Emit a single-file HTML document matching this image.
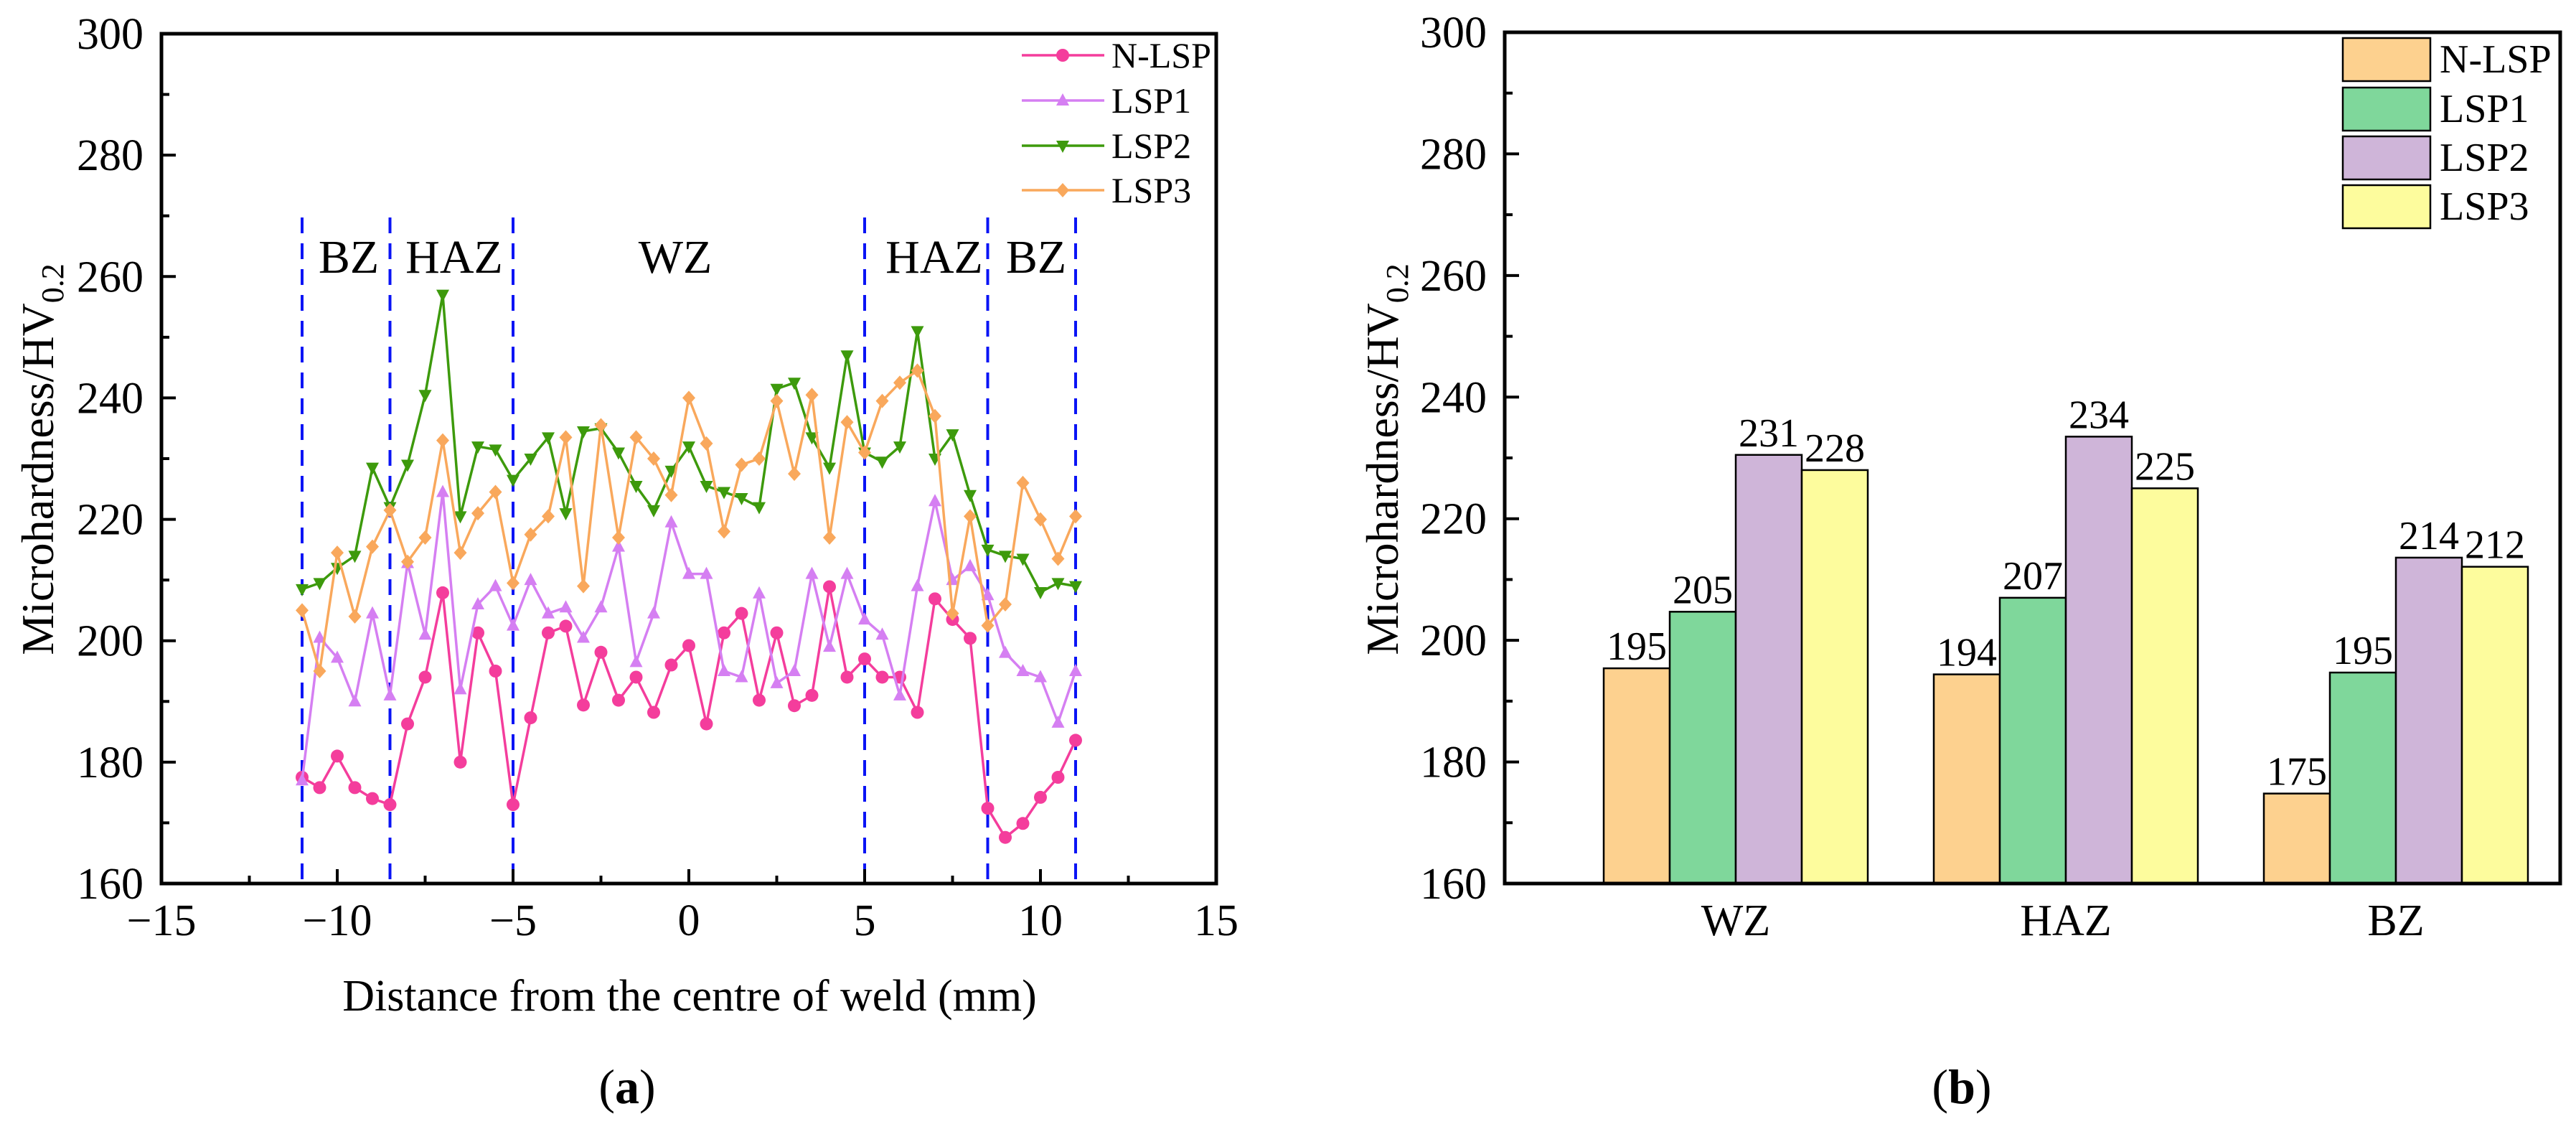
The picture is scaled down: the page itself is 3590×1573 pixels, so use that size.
<!DOCTYPE html>
<html><head><meta charset="utf-8">
<style>
html,body{margin:0;padding:0;background:#fff;}
svg{display:block;}
svg text{font-family:"Liberation Serif","Times New Roman",serif;}
</style></head>
<body>
<svg id="fig" width="3590" height="1573" viewBox="0 0 3590 1573" xmlns="http://www.w3.org/2000/svg" font-family="Liberation Serif, serif">
<g id="chartA"></g>
<g id="chartB"></g>
</svg>
<script>
// ---- Chart (a) data ----
const xPositions = [-11,-10.5,-10,-9.5,-9,-8.5,-8,-7.5,-7,-6.5,-6,-5.5,-5,-4.5,-4,-3.5,-3,-2.5,-2,-1.5,-1,-0.5,0,0.5,1,1.5,2,2.5,3,3.5,4,4.5,5,5.5,6,6.5,7,7.5,8,8.5,9,9.5,10,10.5,11];
const nlspValues = [177.5,175.8,181,175.8,174,173,186.3,194,207.9,180,201.3,195,173,187.3,201.3,202.4,189.4,198.1,190.2,194,188.2,196,199.2,186.3,201.3,204.5,190.2,201.3,189.3,191,208.9,194,197,194,194,188.2,206.9,203.5,200.4,172.4,167.6,169.9,174.2,177.5,183.6];
const lsp1Values = [177,200.5,197.2,190,204.5,191,212.8,201,224.5,192,206,209,202.5,210,204.5,205.5,200.5,205.5,215.5,196.5,204.5,219.5,211,211,195,194,207.8,193,195,211,199,211,203.5,201,191,209,223,210,212.3,207.5,198,195,194,186.5,195];
const lsp2Values = [208.5,209.5,212,214,228.5,222,229,240.5,257,220.5,232,231.5,226.5,230,233.5,221,234.5,235,231,225.5,221.5,228,232,225.5,224.5,223.5,222,241.5,242.5,233.5,228.5,247,231,229.5,232,251,230,234,224,215,214,213.5,208,209.5,209];
const lsp3Values = [205,195,214.5,204,215.5,221.5,213,217,233,214.5,221,224.5,209.5,217.5,220.5,233.5,209,235.5,217,233.5,230,224,240,232.5,218,229,230,239.5,227.5,240.5,217,236,231,239.5,242.5,244.5,237,204.5,220.5,202.5,206,226,220,213.5,220.5];
const seriesNames = ["N-LSP","LSP1","LSP2","LSP3"];
const xTickLabels = [-15,-10,-5,0,5,10,15];
const yTickLabels = [160,180,200,220,240,260,280,300];
const zoneBoundaries = [-11,-8.5,-5,5,8.5,11];
const zoneLabels = ["BZ","HAZ","WZ","HAZ","BZ"];
// ---- Chart (b) data ----
const barCategories = ["WZ","HAZ","BZ"];
const barNLSP = [195.4,194.4,174.8];
const barLSP1 = [204.7,207,194.7];
const barLSP2 = [230.5,233.5,213.6];
const barLSP3 = [228,225,212.1];
const barLabelsNLSP = ["195","194","175"];
const barLabelsLSP1 = ["205","207","195"];
const barLabelsLSP2 = ["231","234","214"];
const barLabelsLSP3 = ["228","225","212"];

const NS="http://www.w3.org/2000/svg";
function mk(parent,tag,attrs,text){const e=document.createElementNS(NS,tag);for(const k in attrs)e.setAttribute(k,attrs[k]);if(tag==='text')e.setAttribute('font-family','Liberation Serif, serif');if(text!==undefined)e.textContent=text;parent.appendChild(e);return e;}

// ===== Chart A =====
const A=document.getElementById('chartA');
const aL=225,aR=1695,aT=47,aB=1231;
const ax=v=>aL+(v+15)/30*(aR-aL);
const ay=v=>aB-(v-160)/140*(aB-aT);
const colors=["#f43d9c","#d57ff2","#3d9a0c","#f9a85c"];
const allSeries=[nlspValues,lsp1Values,lsp2Values,lsp3Values];
zoneBoundaries.forEach(z=>{
  const l=mk(A,'line',{x1:ax(z),x2:ax(z),y1:303,y2:aB,stroke:'#0a14f5','stroke-width':4,'stroke-dasharray':'22,14'});
  
  
});
zoneLabels.forEach((t,i)=>{
  const cx=[486,633,941,1302,1444][i];
  const e=mk(A,'text',{x:cx,y:380,'font-size':66,'text-anchor':'middle'},t);
  
  
});
function marker(g,type,x,y,c){
  const r=9;let e;
  if(type===0)e=mk(g,'circle',{cx:x,cy:y,r:r,fill:c});
  else if(type===1)e=mk(g,'polygon',{points:`${x},${y-r-1} ${x-r},${y+r-2} ${x+r},${y+r-2}`,fill:c});
  else if(type===2)e=mk(g,'polygon',{points:`${x},${y+r+1} ${x-r},${y-r+2} ${x+r},${y-r+2}`,fill:c});
  else e=mk(g,'polygon',{points:`${x},${y-r-1} ${x+r},${y} ${x},${y+r+1} ${x-r},${y}`,fill:c});
  return e;
}
allSeries.forEach((vals,si)=>{
  const g=mk(A,'g',{});
  
  
  const pts=vals.map((v,i)=>ax(xPositions[i])+','+ay(v)).join(' ');
  mk(g,'polyline',{points:pts,fill:'none',stroke:colors[si],'stroke-width':3.5});
  vals.forEach((v,i)=>{
    const m=marker(g,si,ax(xPositions[i]),ay(v),colors[si]);
    
    
  });
});
mk(A,'rect',{x:aL,y:aT,width:aR-aL,height:aB-aT,fill:'none',stroke:'#000','stroke-width':5});
for(let v=-15;v<=15;v+=2.5){const major=(v%5===0);mk(A,'line',{x1:ax(v),x2:ax(v),y1:aB,y2:aB-(major?20:11),stroke:'#000','stroke-width':4});}
for(let v=160;v<=300;v+=10){const major=(v%20===0);mk(A,'line',{x1:aL,x2:aL+(major?20:11),y1:ay(v),y2:ay(v),stroke:'#000','stroke-width':4});}
xTickLabels.forEach(v=>{
  const e=mk(A,'text',{x:ax(v),y:1303,'font-size':62,'text-anchor':'middle'},v<0?'\u2212'+Math.abs(v):String(v));
  
  
});
yTickLabels.forEach(v=>{
  const e=mk(A,'text',{x:200,y:ay(v)+21,'font-size':62,'text-anchor':'end'},String(v));
  
  
});
const ytA=mk(A,'text',{transform:'translate(74,640) rotate(-90)','font-size':64,'text-anchor':'middle'});
ytA.innerHTML='Microhardness/HV<tspan font-size="44" dy="14">0.2</tspan>';


const xtA=mk(A,'text',{x:961,y:1408,'font-size':62,'text-anchor':'middle'},'Distance from the centre of weld (mm)');


const capA=mk(A,'text',{x:874,y:1537,'font-size':68,'text-anchor':'middle'});
capA.innerHTML='(<tspan font-weight="bold">a</tspan>)';


const legA=mk(A,'g',{});


seriesNames.forEach((n,i)=>{
  const y=[77,140,203,265][i];
  const ent=mk(legA,'g',{});
  
  
  mk(ent,'line',{x1:1424,x2:1539,y1:y,y2:y,stroke:colors[i],'stroke-width':3.5});
  marker(ent,i,1481,y,colors[i]);
  mk(ent,'text',{x:1549,y:y+17,'font-size':50},n);
});

// ===== Chart B =====
const B=document.getElementById('chartB');
const bL=2097,bR=3568,bT=45,bB=1231;
const by=v=>bB-(v-160)/140*(bB-bT);
const bcx=i=>2419+460*i;
const barW=92;
const barColors=["#fdd18f","#7fd79b","#cfb5d9","#fdfc9d"];
const barSeries=[barNLSP,barLSP1,barLSP2,barLSP3];
const barLabelSets=[barLabelsNLSP,barLabelsLSP1,barLabelsLSP2,barLabelsLSP3];
barSeries.forEach((vals,si)=>{
  const g=mk(B,'g',{});
  
  
  vals.forEach((v,ci)=>{
    const x=bcx(ci)+(si-2)*barW;
    const r=mk(g,'rect',{x:x,y:by(v),width:barW,height:bB-by(v),fill:barColors[si],stroke:'#000','stroke-width':2.5});
    
    
    const t=mk(g,'text',{x:x+barW/2,y:by(v)-12,'font-size':56,'text-anchor':'middle'},barLabelSets[si][ci]);
    
    
  });
});
mk(B,'rect',{x:bL,y:bT,width:bR-bL,height:bB-bT,fill:'none',stroke:'#000','stroke-width':5});
for(let v=160;v<=300;v+=10){const major=(v%20===0);mk(B,'line',{x1:bL,x2:bL+(major?20:11),y1:by(v),y2:by(v),stroke:'#000','stroke-width':4});}
yTickLabels.forEach(v=>{
  const e=mk(B,'text',{x:2072,y:by(v)+21,'font-size':62,'text-anchor':'end'},String(v));
  
  
});
barCategories.forEach((c,i)=>{
  const e=mk(B,'text',{x:bcx(i),y:1303,'font-size':62,'text-anchor':'middle'},c);
  
  
});
const ytB=mk(B,'text',{transform:'translate(1948,640) rotate(-90)','font-size':64,'text-anchor':'middle'});
ytB.innerHTML='Microhardness/HV<tspan font-size="44" dy="14">0.2</tspan>';


const capB=mk(B,'text',{x:2734,y:1537,'font-size':68,'text-anchor':'middle'});
capB.innerHTML='(<tspan font-weight="bold">b</tspan>)';


const legB=mk(B,'g',{});


seriesNames.forEach((n,i)=>{
  const y=[53,122,190,258][i];
  const ent=mk(legB,'g',{});
  
  
  mk(ent,'rect',{x:3265,y:y,width:122,height:60,fill:barColors[i],stroke:'#000','stroke-width':2.5});
  mk(ent,'text',{x:3400,y:y+48,'font-size':56},n);
});
</script>
</body></html>
